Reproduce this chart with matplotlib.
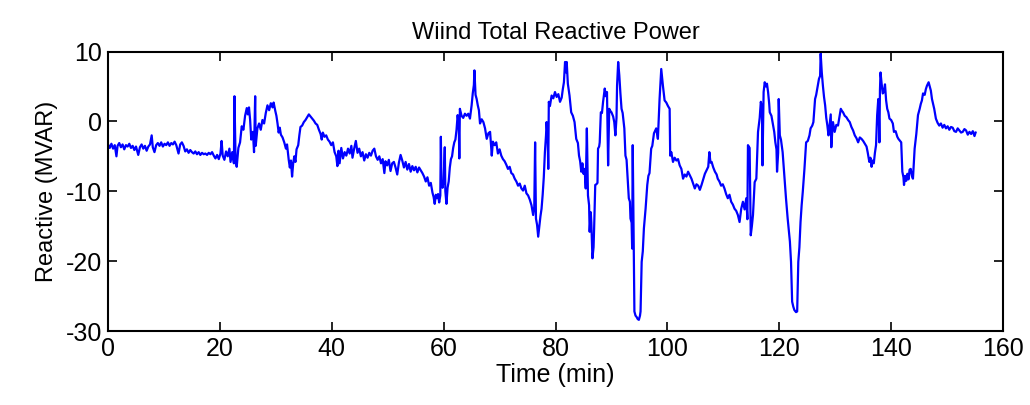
import matplotlib
matplotlib.use("Agg")
import matplotlib.pyplot as plt

# time stamps (min) and reactive power (MVAR)
time_min = [
    0.0, 0.3, 0.6, 0.9, 1.2, 1.5, 1.7, 2.0, 2.3, 2.6, 2.9, 3.2, 3.5, 3.8, 4.1, 4.4, 4.7, 5.0, 5.4, 5.7,
    6.0, 6.3, 6.6, 6.9, 7.2, 7.5, 7.8, 8.0, 8.3, 8.6, 8.9, 9.2, 9.5, 9.8, 10.1, 10.4, 10.7, 11.0, 11.3, 11.6,
    11.9, 12.2, 12.6, 12.9, 13.2, 13.5, 13.8, 14.1, 14.4, 14.7, 15.0, 15.3, 15.6, 15.9, 16.2, 16.5, 16.8, 17.1, 17.4, 17.7,
    18.0, 18.3, 18.6, 18.9, 19.2, 19.5, 19.8, 20.1, 20.3, 20.5, 20.8, 21.1, 21.4, 21.7, 21.9, 22.2, 22.5,
    22.6, 22.8, 23.0, 23.3, 23.6, 23.9, 24.2, 24.5, 24.8, 25.0, 25.2, 25.4, 25.6, 25.9, 26.1, 26.3, 26.4, 26.7, 27.0, 27.3,
    27.6, 27.9, 28.2, 28.5, 28.8, 29.1, 29.4, 29.6, 29.9, 30.1, 30.3, 30.5, 30.7, 30.9, 31.2, 31.5, 31.8, 32.0, 32.3, 32.5,
    32.7, 32.9, 33.1, 33.3, 33.5, 33.7, 34.0, 34.2, 34.4, 34.7, 35.0, 35.3, 35.6, 35.9, 36.2, 36.5, 36.8, 37.1, 37.4, 37.7,
    38.0, 38.2, 38.4, 38.7, 39.0, 39.3, 39.6, 39.9, 40.2, 40.5, 40.8, 41.0, 41.2, 41.4, 41.7, 42.0, 42.3, 42.6, 42.9, 43.2,
    43.5, 43.7, 44.0, 44.3, 44.6, 44.9, 45.2, 45.5, 45.8, 46.1, 46.4, 46.7, 47.0, 47.3, 47.6, 47.9, 48.2, 48.5, 48.8, 49.1,
    49.4, 49.6, 49.9, 50.2, 50.5, 50.8, 51.1, 51.4, 51.7, 52.0, 52.3, 52.6, 52.9, 53.2, 53.5, 53.8, 54.1, 54.4, 54.7, 55.0,
    55.3, 55.6, 55.9, 56.2, 56.5, 56.8, 57.1, 57.4, 57.7, 58.0, 58.2, 58.4, 58.6, 58.8, 59.0, 59.2, 59.4, 59.5, 59.6, 59.8,
    60.0, 60.2, 60.3, 60.5, 60.7, 60.9, 61.1, 61.3, 61.5, 61.7, 61.9, 62.1, 62.3, 62.5, 62.7, 62.8, 62.9, 63.2, 63.5, 63.8,
    64.1, 64.4, 64.7, 65.0, 65.2, 65.4, 65.5, 65.7, 65.9, 66.1, 66.3, 66.5, 66.8, 67.1, 67.4, 67.7, 68.0, 68.3, 68.6, 68.8,
    69.1, 69.4, 69.7, 70.0, 70.3, 70.6, 70.9, 71.2, 71.5, 71.8, 72.1, 72.4, 72.7, 73.0, 73.3, 73.6, 73.9, 74.2, 74.5, 74.8,
    75.1, 75.4, 75.7, 76.0, 76.2, 76.35, 76.5, 76.7, 76.9, 77.1, 77.3, 77.5, 77.7, 77.9, 78.1, 78.3, 78.4, 78.6, 78.7, 78.8,
    79.0, 79.3, 79.6, 79.9, 80.2, 80.5, 80.8, 81.1, 81.3, 81.5, 81.7, 81.9, 82.0, 82.2, 82.5, 82.8, 83.1, 83.4, 83.7, 84.0,
    84.2, 84.4, 84.6, 84.8, 85.0, 85.2, 85.4, 85.6, 85.8, 86.0, 86.1, 86.3, 86.4, 86.6, 86.8, 86.9, 87.1, 87.3, 87.5, 87.6,
    87.8, 87.9, 88.1, 88.3, 88.5, 88.8, 89.0, 89.2, 89.4, 89.6, 89.8, 90.0, 90.3, 90.5, 90.7, 90.9, 91.0, 91.2, 91.4, 91.6,
    91.8, 92.0, 92.3, 92.5, 92.7, 92.9, 93.1, 93.3, 93.4, 93.6, 93.7, 93.8, 94.0, 94.1, 94.3, 94.5, 94.7, 94.9, 95.1, 95.2,
    95.4, 95.6, 95.8, 96.1, 96.4, 96.6, 96.8, 97.1, 97.3, 97.6, 98.0, 98.3, 98.6, 98.9, 99.1, 99.2, 99.5, 99.8, 100.1, 100.4,
    100.5, 100.7, 101.0, 101.3, 101.6, 101.9, 102.2, 102.5, 102.8, 103.1, 103.4, 103.7, 104.0, 104.3, 104.6, 104.9, 105.2, 105.5, 105.8, 106.1,
    106.4, 106.7, 107.0, 107.3, 107.5, 107.7, 107.9, 108.2, 108.5, 108.8, 109.0, 109.3, 109.6, 109.9, 110.2, 110.5, 110.8, 111.1, 111.4, 111.7,
    112.0, 112.3, 112.6, 112.9, 113.2, 113.5, 113.8, 114.1, 114.3, 114.4, 114.7, 114.9, 115.1, 115.3, 115.6, 115.9, 116.2, 116.5, 116.7, 116.9,
    117.0, 117.2, 117.4, 117.6, 117.8, 118.0, 118.2, 118.3, 118.6, 118.9, 119.1, 119.3, 119.5, 119.6, 119.8, 119.9, 120.1, 120.3, 120.6, 120.9,
    121.2, 121.5, 121.9, 122.1, 122.3, 122.5, 122.7, 123.0, 123.2, 123.4, 123.6, 123.8, 124.0, 124.2, 124.5, 124.8, 125.1, 125.4, 125.6, 125.9,
    126.1, 126.4, 126.6, 126.8, 127.1, 127.3, 127.4, 127.6, 127.8, 128.0, 128.2, 128.4, 128.6, 128.8, 129.0, 129.2, 129.3, 129.5, 129.6, 129.9,
    130.2, 130.5, 130.8, 131.0, 131.2, 131.4, 131.7, 132.0, 132.3, 132.6, 132.9, 133.2, 133.5, 133.8, 134.1, 134.4, 134.7, 135.0, 135.3, 135.6,
    135.8, 136.1, 136.3, 136.5, 136.7, 136.9, 137.1, 137.3, 137.5, 137.7, 137.8, 137.9, 138.0, 138.1, 138.3, 138.5, 138.7, 138.9, 139.1, 139.3,
    139.5, 139.7, 140.0, 140.3, 140.5, 140.8, 141.1, 141.3, 141.6, 141.8, 142.0, 142.2, 142.3, 142.5, 142.7, 142.9, 143.1, 143.3, 143.5, 143.7,
    143.9, 144.1, 144.2, 144.5, 144.8, 145.1, 145.3, 145.5, 145.7, 146.0, 146.2, 146.4, 146.7, 146.9, 147.1, 147.3, 147.5, 147.7, 148.0, 148.3,
    148.6, 148.9, 149.2, 149.5, 149.8, 150.1, 150.4, 150.7, 151.0, 151.3, 151.6, 151.9, 152.2, 152.5, 152.8, 153.1, 153.4, 153.7, 154.0, 154.3,
    154.6, 154.9, 155.1,
]
reactive_mvar = [
    -3.3, -3.8, -3.2, -3.9, -3.4, -5.0, -3.5, -3.1, -3.7, -3.3, -4.0, -3.4, -3.6, -3.2, -3.8, -3.5, -4.1, -3.6, -4.8, -3.7,
    -3.3, -3.9, -3.5, -4.2, -3.6, -3.3, -2.0, -3.7, -4.4, -3.4, -3.1, -3.5, -3.0, -3.6, -3.2, -3.4, -3.0, -3.5, -3.1, -3.3,
    -2.9, -3.4, -4.6, -3.3, -3.0, -3.5, -4.3, -4.0, -4.5, -4.1, -4.4, -4.6, -4.3, -4.7, -4.4, -4.8, -4.5, -4.7, -4.6, -4.8,
    -4.5, -4.7, -4.4, -4.9, -5.3, -4.8, -5.4, -4.6, -2.8, -4.9, -5.5, -4.3, -5.0, -3.9, -5.8, -4.4, -6.0,
    3.6, -5.5, -6.5, -3.8, -3.0, -0.7, -1.2, 0.8, 1.9, 1.0, 2.0, 0.2, -2.6, -1.5, -4.4, 3.6, -3.5, -1.0, -0.3, -1.2,
    0.2, -0.3, 1.2, 2.3, 1.6, 2.6, 2.0, 2.7, 1.5, 0.8, -0.3, -1.6, -0.9, -1.9, -2.3, -3.0, -3.9, -3.3, -5.5, -6.6,
    -5.6, -7.9, -6.0, -5.0, -5.8, -4.0, -3.4, -2.0, -0.8, -0.6, -0.1, 0.2, 0.6, 1.0, 0.7, 0.4, 0.1, -0.3, -0.5, -1.2,
    -1.8, -2.6, -1.6, -2.2, -2.0, -2.6, -2.9, -3.4, -3.0, -4.4, -5.0, -6.4, -4.2, -6.0, -3.8, -5.3, -4.4, -4.9, -3.9, -4.6,
    -3.5, -5.2, -3.9, -2.8, -4.5, -3.9, -5.0, -4.4, -5.6, -4.7, -5.2, -4.5, -4.9, -4.2, -3.9, -5.0, -5.5, -5.0, -6.0, -5.4,
    -7.4, -5.7, -6.3, -5.5, -7.1, -6.0, -5.8, -6.6, -7.6, -5.9, -4.8, -5.6, -6.6, -5.8, -6.9, -6.1, -7.2, -6.4, -7.0, -6.5,
    -7.3, -6.6, -7.0, -7.4, -7.9, -8.6, -8.0, -9.2, -8.8, -10.2, -10.8, -11.8, -10.5, -11.0, -10.4, -11.6, -10.6, -2.2, -8.7, -9.5,
    -8.4, -3.7, -10.0, -11.8, -9.5, -8.6, -6.6, -5.4, -5.0, -3.8, -3.0, -2.6, -1.2, 0.9, -0.5, -5.3, 1.8, 0.8, 0.5, 1.1,
    0.8, 1.1, 0.4, 2.3, 4.0, 5.2, 7.3, 3.8, 3.2, 2.3, 1.6, -0.3, 0.3, -0.1, -1.0, -2.5, -1.7, -1.5, -4.9, -2.9,
    -3.4, -3.0, -4.6, -4.0, -4.9, -5.4, -5.7, -6.2, -6.8, -6.5, -7.4, -7.6, -8.2, -8.6, -9.2, -8.9, -9.6, -9.9, -9.2, -10.3,
    -10.6, -11.2, -12.0, -13.4, -12.2, -3.0, -13.9, -14.8, -16.5, -15.0, -13.6, -12.5, -10.5, -8.0, -4.4, -2.0, -0.1, -2.5, -6.8, 2.8,
    2.2, 3.7, 3.3, 4.2, 3.5, 3.9, 2.8, 3.4, 4.6, 5.6, 8.5, 7.0, 8.5, 5.4, 3.7, 1.3, 0.8, -0.1, -2.5, -3.1,
    -4.9, -5.7, -7.2, -6.0, -7.5, -6.8, -9.6, -1.0, -10.6, -12.0, -15.8, -13.0, -14.5, -19.6, -18.0, -15.3, -9.1, -9.0, -8.8, -3.9,
    -3.6, -3.0, 1.3, 1.2, 2.8, 4.7, 3.6, 4.2, -6.3, 1.8, 1.5, 1.3, 0.7, -0.1, -2.0, 0.5, 5.1, 8.5, 6.6, 4.0,
    1.8, 1.2, -1.0, -4.9, -5.5, -8.2, -11.0, -11.5, -13.9, -14.5, -18.2, -3.4, -18.5, -27.2, -27.8, -28.0, -28.3, -28.4, -27.8, -27.2,
    -20.1, -18.6, -15.3, -12.5, -9.1, -7.8, -7.4, -3.9, -3.5, -1.7, -1.0, -2.5, 3.2, 7.5, 5.8, 5.1, 3.0, 2.7, 2.2, 1.8,
    -4.9, -4.4, -5.8, -5.2, -5.6, -5.4, -6.3, -6.8, -8.2, -7.6, -7.9, -7.2, -7.7, -8.2, -8.9, -9.6, -9.0, -9.2, -9.8, -9.1,
    -8.3, -7.5, -7.0, -6.5, -4.4, -5.9, -5.8, -6.6, -7.2, -7.6, -8.2, -8.6, -9.2, -9.0, -9.6, -10.4, -11.0, -10.5, -11.5, -11.9,
    -12.5, -12.8, -13.4, -14.4, -12.5, -11.5, -12.6, -11.0, -14.0, -3.4, -3.8, -16.3, -15.0, -13.4, -8.7, -8.2, -1.5, 0.5, 2.8, 2.0,
    -6.3, 4.2, 5.6, 5.0, 5.4, 4.2, 2.5, 1.3, 0.8, -0.6, -1.5, -3.0, -4.0, -7.2, -4.5, 3.2, -2.0, -2.6, -4.4, -7.7,
    -11.0, -13.9, -17.2, -20.1, -25.8, -26.5, -27.0, -27.3, -27.2, -20.1, -18.0, -14.4, -12.0, -10.1, -6.8, -3.0, -2.8, -2.0, -1.0, -0.6,
    -0.1, 3.2, 3.8, 4.7, 6.1, 6.5, 9.7, 7.0, 5.1, 3.5, 2.3, 0.5, -0.6, -2.0, -0.5, 1.0, -3.7, -1.0, -0.1, -1.5,
    -0.5, -0.6, 0.8, 1.8, 1.5, 1.3, 0.8, 0.6, 0.2, -0.1, -0.8, -1.3, -2.0, -2.4, -3.0, -2.3, -2.5, -2.8, -3.2, -3.6,
    -4.4, -5.8, -5.2, -6.5, -5.6, -6.0, -4.5, -3.4, 0.9, 3.2, 1.0, -3.0, 4.5, 7.0, 5.4, 4.0, 4.2, 5.3, 3.0, 1.8,
    1.3, 0.4, 0.2, -0.3, -1.5, -1.4, -2.2, -2.5, -2.8, -3.0, -7.2, -8.0, -9.1, -7.8, -8.5, -7.5, -8.3, -6.9, -6.8, -7.8,
    -8.2, -5.5, -3.9, -1.8, 0.9, 1.8, 2.5, 3.0, 4.0, 3.8, 4.6, 5.1, 5.6, 5.0, 4.4, 3.2, 2.5, 1.8, 0.4, -0.2,
    -0.6, -0.3, -0.9, -0.5, -1.0, -0.7, -1.2, -0.8, -0.9, -1.4, -1.5, -1.0, -1.3, -1.6, -1.5, -1.1, -1.3, -1.9, -1.5, -1.8,
    -1.4, -2.1, -1.6,
]

x_ticks = [0, 20, 40, 60, 80, 100, 120, 140, 160]
y_ticks = [-30, -20, -10, 0, 10]

plt.rcParams["font.family"] = ["Liberation Sans", "DejaVu Sans"]
plt.rcParams["axes.unicode_minus"] = False

fig = plt.figure(figsize=(10.3, 4.05), dpi=100)
ax = fig.add_axes([0.1049, 0.1827, 0.8689, 0.6901])

ax.plot(time_min, reactive_mvar, color=(0, 0, 1), linewidth=1.6)

ax.set_xlim(0, 160)
ax.set_ylim(-30, 10)
ax.set_xticks(x_ticks)
ax.set_yticks(y_ticks)
ax.tick_params(direction="in", length=6.5, width=1.2, top=True, right=True,
               labelsize=18, pad=4)
for s in ax.spines.values():
    s.set_linewidth(1.5)

ax.set_title("Wiind Total Reactive Power", fontsize=17, pad=9)
ax.set_xlabel("Time (min)", fontsize=18, labelpad=2)
ax.set_ylabel("Reactive (MVAR)", fontsize=17, labelpad=6)

fig.savefig("out.png", dpi=100)
